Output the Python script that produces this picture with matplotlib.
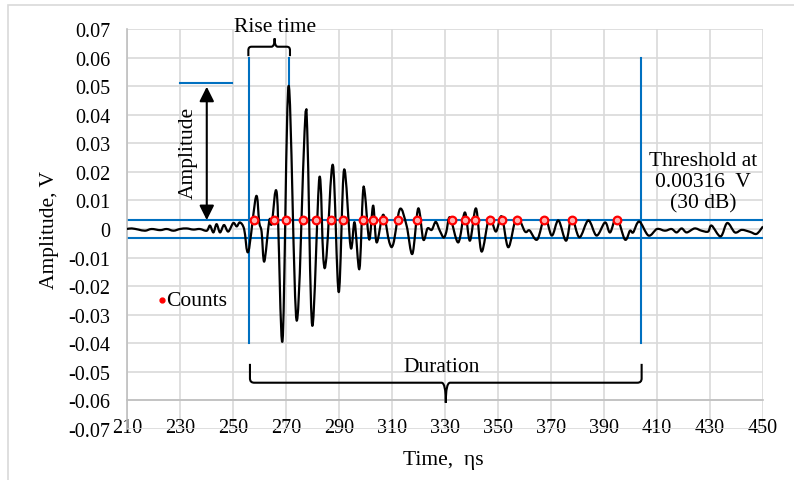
import matplotlib
matplotlib.use("Agg")
import matplotlib.pyplot as plt
from matplotlib.path import Path
from matplotlib.patches import PathPatch, Rectangle

# ---------------- data ----------------
time_ns = [210.0, 211.8, 214.3, 216.8, 219.3, 222.5, 225.0, 227.5, 230.0, 232.5,
           235.0, 237.5, 240.1, 241.3, 242.6, 243.8, 245.1, 246.6, 248.2, 250.1,
           251.4, 252.6, 254.2, 255.8, 258.7, 259.9, 260.8, 261.8, 263.7, 264.6,
           266.6, 268.7, 271.0, 274.0, 277.0, 278.0, 279.9, 282.6, 284.1, 285.3,
           287.7, 289.9, 291.9, 294.4, 295.9, 297.7, 299.0, 299.8, 301.4, 302.9,
           304.2, 306.7, 309.0, 310.5, 313.0, 315.5, 317.7, 319.9, 321.8, 323.4,
           325.0, 326.5, 328.0, 329.5, 330.5, 331.9, 335.0, 337.5, 339.4, 341.7,
           343.8, 346.7, 349.2, 351.4, 353.9, 357.0, 360.2, 361.9, 364.8, 367.7,
           370.3, 372.8, 375.7, 377.8, 380.7, 384.1, 387.2, 390.4, 392.3, 394.8,
           397.9, 399.8, 401.0, 403.3, 406.8, 410.0, 413.0, 415.5, 417.4, 419.3,
           421.2, 424.2, 426.8, 429.3, 430.6, 434.0, 436.5, 439.4, 442.0, 445.1,
           447.6, 450.0]
amplitude_v = [0.0, 0.0002, -0.0002, -0.0006, 0.0, -0.0004, 0.0, -0.0006, 0.0, 0.0002,
               -0.0002, 0.0, -0.0006, 0.0012, -0.0012, 0.0017, -0.0012, 0.0014, -0.0009, 0.0021,
               0.0009, 0.0023, 0.0, -0.0079, 0.0114, 0.0023, -0.001, -0.0114, 0.003, 0.0017,
               0.0119, -0.039, 0.0501, -0.032, 0.034, 0.035, -0.0338, 0.018, -0.0105, -0.0094,
               0.0224, -0.0221, 0.0207, -0.0064, 0.0023, -0.014, 0.0122, 0.0122, -0.0037, 0.0082,
               -0.0047, 0.005, -0.0047, -0.0052, 0.007, 0.0012, -0.0087, 0.0072, -0.0037, 0.0002,
               -0.0003, 0.0025, -0.0005, -0.003, -0.001, 0.0041, -0.0047, 0.0058, -0.0041, 0.0072,
               -0.0079, 0.0041, -0.0009, 0.0044, -0.0064, 0.0041, -0.0009, -0.0005, -0.0037, 0.0041,
               -0.0023, 0.003, -0.0041, 0.0041, -0.0029, 0.003, -0.0023, 0.0023, -0.0012, 0.0041,
               -0.0037, -0.0006, -0.0012, 0.0026, -0.0023, 0.0, -0.0006, 0.0, -0.0012, 0.0002,
               -0.0012, 0.0002, -0.0006, -0.0009, 0.0012, -0.0026, 0.0021, -0.0012, -0.0003, -0.001,
               -0.0017, 0.0009]

count_times = [257.9, 265.6, 270.0, 276.3, 281.3, 287.0, 291.4, 299.2, 302.7, 306.6,
               312.3, 319.3, 332.8, 337.5, 341.3, 347.0, 351.4, 357.1, 367.5, 377.8, 394.8]
threshold = 0.00316

x_ticks = list(range(210, 451, 20))
y_ticks = [0.07, 0.06, 0.05, 0.04, 0.03, 0.02, 0.01, 0.0, -0.01, -0.02, -0.03, -0.04, -0.05, -0.06, -0.07]
y_tick_labels = ["0.07", "0.06", "0.05", "0.04", "0.03", "0.02", "0.01", "0",
                 "-0.01", "-0.02", "-0.03", "-0.04", "-0.05", "-0.06", "-0.07"]

rise_start, rise_end = 256.0, 271.0
duration_end = 403.8
peak_amp = 0.051

# ---------------- figure ----------------
plt.rcParams['font.family'] = ['Liberation Serif', 'DejaVu Serif']
W, H = 794, 481
fig = plt.figure(figsize=(W / 100, H / 100), dpi=100)
fig.patch.set_facecolor('white')
fig.patches.append(Rectangle((8 / W, -0.1), 1.2, 1 - 6 / H + 0.1, transform=fig.transFigure,
                             fill=False, ec='#d9d9d9', lw=1.2))

L, R, T, B = 127, 763, 30, 430
ax = fig.add_axes([L / W, 1 - B / H, (R - L) / W, (B - T) / H])
ax.set_xlim(210, 450)
ax.set_ylim(-0.07, 0.07)
ax.set_xticks(x_ticks)
ax.set_yticks(y_ticks)
ax.set_yticklabels(y_tick_labels)
ax.grid(True, color='#d9d9d9', lw=1.2)
ax.set_axisbelow(True)
for s in ['top', 'right']:
    ax.spines[s].set_visible(False)
ax.spines['left'].set_color('#bfbfbf')
ax.spines['left'].set_linewidth(1.2)
ax.spines['bottom'].set_color('#bfbfbf')
ax.spines['bottom'].set_linewidth(1.2)
ax.spines['bottom'].set_position(('data', -0.06))
ax.tick_params(length=0, labelsize=14.5, colors='black')
ax.tick_params(axis='x', pad=12.5)
ax.tick_params(axis='y', pad=12)

blue = '#0070C0'
# threshold lines
ax.axhline(threshold, color=blue, lw=1.5, zorder=2)
ax.axhline(-threshold, color=blue, lw=1.5, zorder=2)
# vertical marker lines
ax.plot([rise_start, rise_start], [-0.04, 0.06], color=blue, lw=1.5, zorder=2)
ax.plot([rise_end, rise_end], [0.049, 0.06], color=blue, lw=1.5, zorder=2)
ax.plot([duration_end, duration_end], [-0.04, 0.06], color=blue, lw=1.5, zorder=2)
ax.plot([230, 249.7], [peak_amp, peak_amp], color=blue, lw=1.5, zorder=2)


# waveform drawn as a smoothed line (Excel-style smoothing through the data points)
def smooth_path(xs, ys):
    pts = list(zip(xs, ys))
    n = len(pts)
    verts = [pts[0]]
    codes = [Path.MOVETO]
    for i in range(n - 1):
        p0 = pts[i - 1] if i > 0 else pts[i]
        p1 = pts[i]
        p2 = pts[i + 1]
        p3 = pts[i + 2] if i + 2 < n else pts[i + 1]
        c1 = (p1[0] + (p2[0] - p0[0]) / 6, p1[1] + (p2[1] - p0[1]) / 6)
        c2 = (p2[0] - (p3[0] - p1[0]) / 6, p2[1] - (p3[1] - p1[1]) / 6)
        verts += [c1, c2, p2]
        codes += [Path.CURVE4] * 3
    return Path(verts, codes)


ax.add_patch(PathPatch(smooth_path(time_ns, amplitude_v), fill=False, ec='black', lw=1.6,
                       zorder=3, joinstyle='round'))
# counts
ax.plot(count_times, [threshold] * len(count_times), 'o', ms=5.5, mfc='#ffb0b0', mec='#ff0000',
        mew=1.6, zorder=4, ls='none')


def brace(x0, x1, xc, ybar, yend, ytip, rx=1.2, ry=0.0012):
    sgn_end = 1 if yend > ybar else -1
    verts = [(x0, yend), (x0, ybar + sgn_end * ry), (x0, ybar), (x0 + rx, ybar),
             (xc - rx, ybar), (xc, ybar), (xc, ytip),
             (xc, ybar), (xc + rx, ybar),
             (x1 - rx, ybar), (x1, ybar), (x1, ybar + sgn_end * ry), (x1, yend)]
    codes = [Path.MOVETO, Path.LINETO, Path.CURVE3, Path.CURVE3,
             Path.LINETO, Path.CURVE3, Path.CURVE3,
             Path.CURVE3, Path.CURVE3,
             Path.LINETO, Path.CURVE3, Path.CURVE3, Path.LINETO]
    ax.add_patch(PathPatch(Path(verts, codes), fill=False, ec='black', lw=1.5, zorder=5,
                           clip_on=False))


brace(255.8, 271.5, 265.7, 0.0638, 0.0605, 0.0667)
brace(256.4, 404.2, 330.3, -0.0538, -0.0472, -0.0608, rx=1.6, ry=0.0015)

# amplitude arrow
ax.annotate('', xy=(240.1, 0.0031), xytext=(240.1, 0.0498),
            arrowprops=dict(arrowstyle='<|-|>', color='black', lw=1.5, mutation_scale=22,
                            shrinkA=0, shrinkB=0), zorder=5)

fs = 15.5
ax.text(233.2, 0.027, 'Amplitude', rotation=90, ha='center', va='center', fontsize=fs)
ax.text(265.7, 0.0708, 'Rise time', ha='center', va='center', fontsize=fs)
ax.text(328.8, -0.0480, 'Duration', ha='center', va='center', fontsize=fs)
ax.text(427.3, 0.0165, 'Threshold at\n0.00316  V\n(30 dB)', ha='center', va='center',
        fontsize=fs, linespacing=1.15)
ax.plot([223.3], [-0.025], 'o', ms=3.5, color='#ff0000', zorder=5, clip_on=False)
ax.text(224.8, -0.025, 'Counts', ha='left', va='center', fontsize=fs)

ax.text((49 - L) / (R - L), 0.5, 'Amplitude, V', rotation=90, ha='center', va='center',
        fontsize=fs, transform=ax.transAxes)
ax.text((443 - L) / (R - L), (B - 460) / (B - T), 'Time,  \u03b7s', ha='center', va='center',
        fontsize=fs, transform=ax.transAxes)

fig.savefig('out.png', dpi=100, facecolor='white')
